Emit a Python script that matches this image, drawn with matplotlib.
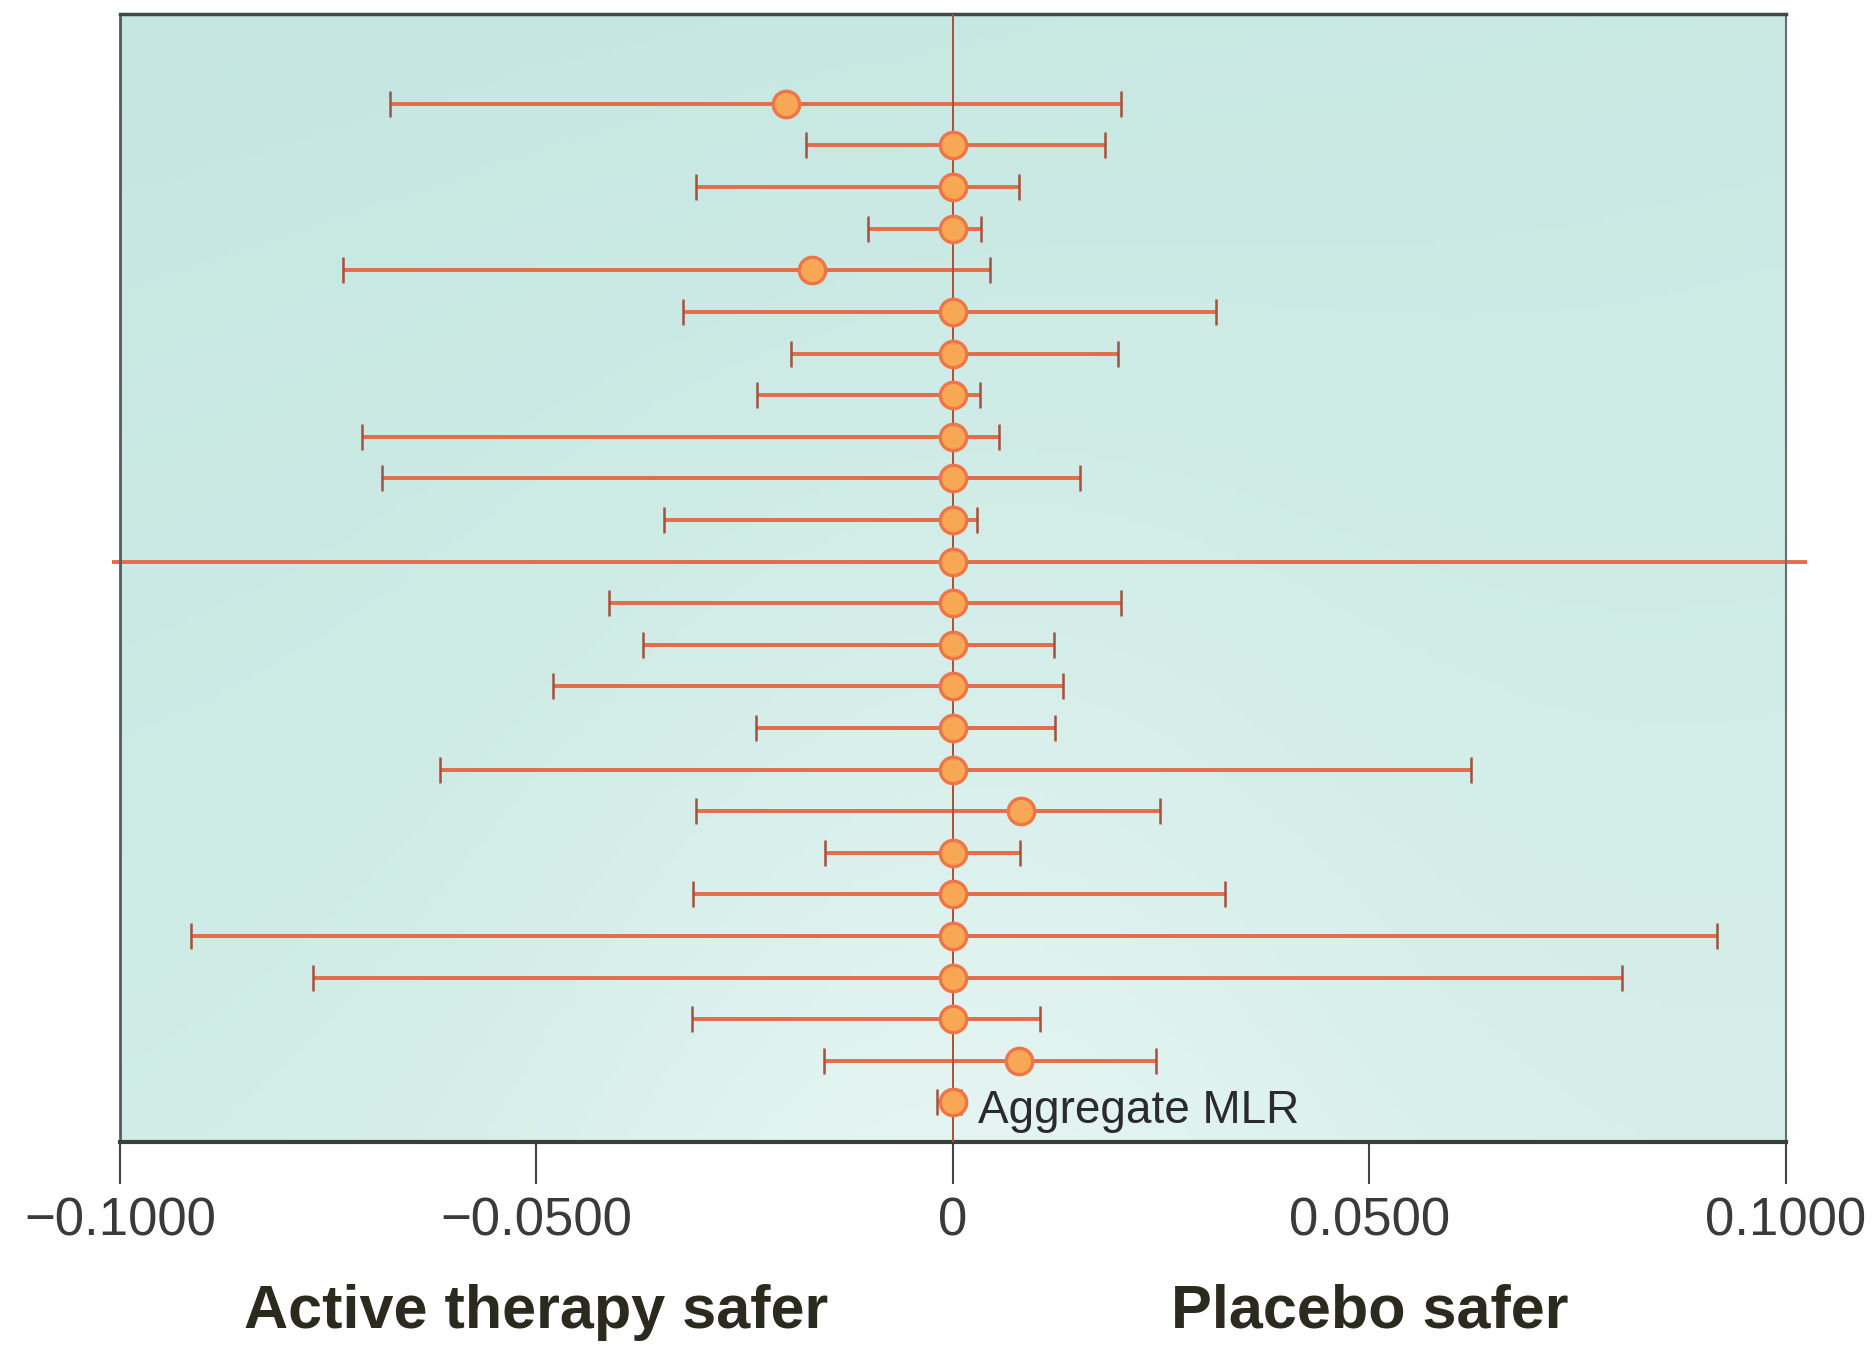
import matplotlib
matplotlib.use("Agg")
import matplotlib.pyplot as plt
import numpy as np

plt.rcParams['font.family'] = ['Liberation Sans', 'DejaVu Sans']

# risk difference per trial, top to bottom (last one is the aggregate)
point = [-0.0200, 0, 0, 0, -0.0169, 0, 0, 0, 0, 0, 0, 0,
         0, 0, 0, 0, 0, 0.0082, 0, 0, 0, 0, 0, 0.0079, 0]
lower = [-0.0676, -0.0177, -0.0309, -0.0102, -0.0732, -0.0324, -0.0194, -0.0235,
         -0.0709, -0.0685, -0.0347, -0.1010, -0.0413, -0.0372, -0.0480, -0.0237,
         -0.0616, -0.0309, -0.0154, -0.0312, -0.0915, -0.0768, -0.0313, -0.0155, -0.0019]
upper = [0.0202, 0.0182, 0.0079, 0.0034, 0.0045, 0.0316, 0.0198, 0.0033,
         0.0055, 0.0152, 0.0029, 0.1025, 0.0202, 0.0121, 0.0132, 0.0123,
         0.0622, 0.0248, 0.0080, 0.0327, 0.0917, 0.0803, 0.0105, 0.0244, 0.0010]
no_caps = 11   # this interval runs off both ends of the axis

xticks = [-0.1, -0.05, 0, 0.05, 0.1]
xticklabels = ['\u22120.1000', '\u22120.0500', '0', '0.0500', '0.1000']

bar_col = '#e46c48'
cap_col = '#a4503c'

fig = plt.figure(figsize=(18.75, 13.46), dpi=100)
ax = fig.add_axes([0.064, 0.1516, 0.8885, 0.838])

# soft teal background, lighter toward the bottom middle
gx, gy = np.meshgrid(np.linspace(0, 1, 200), np.linspace(0, 1, 200))
low = 1 - gy
shade = 0.15 * gx + 0.35 * low + 0.5 * np.exp(-((gx - 0.5) ** 2) / 0.06) * low ** 1.5
shade = np.clip(shade, 0, 1)
c0 = np.array([197, 231, 225]) / 255
c1 = np.array([232, 246, 243]) / 255
img = c0 + (c1 - c0) * shade[..., None]
ax.imshow(img, extent=[0, 1, 0, 1], transform=ax.transAxes, aspect='auto',
          origin='lower', zorder=0)

y = np.arange(len(point))
for i in range(len(point)):
    if i == no_caps:
        ax.plot([lower[i], upper[i]], [y[i], y[i]], color=bar_col, lw=2.8,
                zorder=2, clip_on=False, solid_capstyle='butt')
    else:
        ax.plot([lower[i], upper[i]], [y[i], y[i]], color=bar_col, lw=2.8,
                zorder=2, solid_capstyle='butt')
        ax.plot([lower[i], upper[i]], [y[i], y[i]], ls='none', marker='|',
                ms=19, mew=1.8, color=cap_col, zorder=2)

ax.axvline(0, color='#a8503c', lw=1.4, zorder=3, ymin=0, ymax=1)
ax.plot(point, y, 'o', ms=19, mfc='#f8a854', mec='#f07448', mew=2.4, zorder=4)

ax.text(0.003, y[-1] + 0.2, 'Aggregate MLR', fontsize=33, color='#2b2b2b',
        va='center', ha='left', zorder=5)

ax.set_xlim(-0.1, 0.1)
ax.set_ylim(len(point) - 0.05, -2.16)
ax.set_yticks([])
ax.set_xticks(xticks)
ax.set_xticklabels(xticklabels, fontsize=38, color='#3a3a3a')
ax.tick_params(axis='x', direction='out', length=30, width=1.5, color='#444444', pad=9)

ax.spines['top'].set_color('#3c4a48')
ax.spines['top'].set_linewidth(2.5)
ax.spines['bottom'].set_color('#3a3f3e')
ax.spines['bottom'].set_linewidth(3)
ax.spines['left'].set_color('#555a58')
ax.spines['left'].set_linewidth(2)
ax.spines['right'].set_color('#6a6f6e')
ax.spines['right'].set_linewidth(1.5)

ax.text(-0.05, -0.151, 'Active therapy safer', transform=ax.get_xaxis_transform(),
        ha='center', va='center', fontsize=44, fontweight='bold', color='#2a2a1e')
ax.text(0.05, -0.151, 'Placebo safer', transform=ax.get_xaxis_transform(),
        ha='center', va='center', fontsize=44, fontweight='bold', color='#2a2a1e')

fig.savefig('out.png', dpi=100, facecolor='white')
